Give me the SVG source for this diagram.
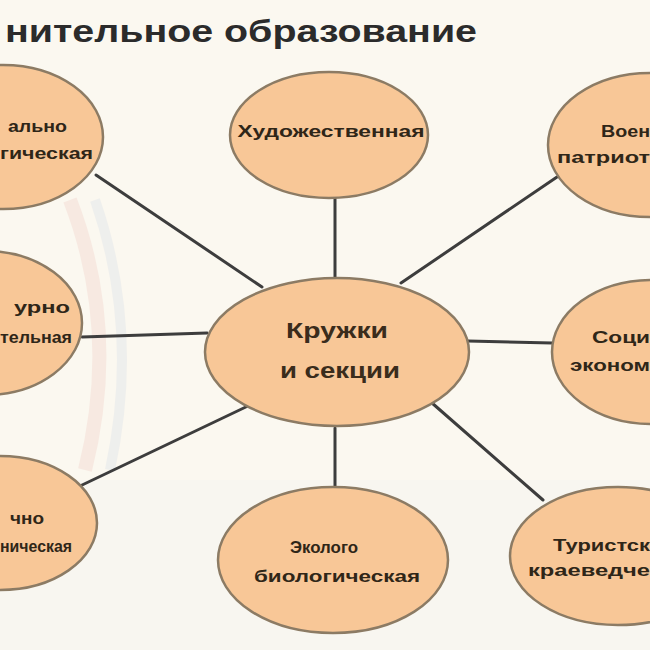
<svg xmlns="http://www.w3.org/2000/svg" width="650" height="650" viewBox="0 0 650 650">
<defs>
<style>
.node{fill:#f8c797;stroke:#8c7b64;stroke-width:2.5}
.lbl{font-family:"Liberation Sans",Arial,sans-serif;font-weight:bold;fill:#2f2618;font-size:16px}
.big{font-family:"Liberation Sans",Arial,sans-serif;font-weight:bold;fill:#3a2c1c;font-size:22px}
.conn line{stroke:#3d3d3d;stroke-width:3;stroke-linecap:round}
</style>
</defs>
<rect width="650" height="650" fill="#fbf8f0"/>
<g id="bg" fill="none" opacity="0.18">
<path d="M70 200 Q120 330 85 470" stroke="#e8a8a0" stroke-width="14"/>
<path d="M95 200 Q140 330 110 470" stroke="#b8c8e0" stroke-width="10"/>
<rect x="0" y="480" width="650" height="170" fill="#eef0f2" stroke="none"/>
</g>
<text id="title" x="5" y="42" font-family="'Liberation Sans',Arial,sans-serif" font-weight="bold" font-size="32" fill="#2b2b2b" textLength="472" lengthAdjust="spacingAndGlyphs">нительное образование</text>
<g class="conn" id="connectors">
<line x1="96" y1="175" x2="262" y2="287"/>
<line x1="335" y1="198" x2="335" y2="278"/>
<line x1="557" y1="177" x2="401" y2="283"/>
<line x1="82" y1="337" x2="207" y2="333"/>
<line x1="468" y1="341" x2="552" y2="343"/>
<line x1="80" y1="486" x2="250" y2="405"/>
<line x1="335" y1="428" x2="335" y2="488"/>
<line x1="432" y1="403" x2="543" y2="500"/>
</g>
<g id="n-center">
<ellipse class="node" cx="337" cy="352" rx="132" ry="74"/>
<text class="big" x="337" y="338" text-anchor="middle" textLength="102" lengthAdjust="spacingAndGlyphs">Кружки</text>
<text class="big" x="340" y="378" text-anchor="middle" textLength="120" lengthAdjust="spacingAndGlyphs">и секции</text>
</g>
<g id="n-art">
<ellipse class="node" cx="329" cy="135" rx="99" ry="63"/>
<text class="lbl" x="331" y="137" text-anchor="middle" textLength="187" lengthAdjust="spacingAndGlyphs">Художественная</text>
</g>
<g id="n-topleft">
<ellipse class="node" cx="3" cy="137" rx="100" ry="72"/>
<text class="lbl" x="8" y="132" textLength="59" lengthAdjust="spacingAndGlyphs">ально</text>
<text class="lbl" x="0" y="159" textLength="93" lengthAdjust="spacingAndGlyphs">гическая</text>
</g>
<g id="n-topright">
<ellipse class="node" cx="650" cy="145" rx="102" ry="72"/>
<text class="lbl" x="601" y="137" textLength="49" lengthAdjust="spacingAndGlyphs">Воен</text>
<text class="lbl" x="557" y="163" textLength="93" lengthAdjust="spacingAndGlyphs">патриот</text>
</g>
<g id="n-leftmid">
<ellipse class="node" cx="-15" cy="323" rx="97" ry="72"/>
<text class="lbl" x="14" y="313" textLength="56" lengthAdjust="spacingAndGlyphs">урно</text>
<text class="lbl" x="0" y="343" textLength="72" lengthAdjust="spacingAndGlyphs">тельная</text>
</g>
<g id="n-rightmid">
<ellipse class="node" cx="652" cy="352" rx="100" ry="72"/>
<text class="lbl" x="592" y="343" textLength="58" lengthAdjust="spacingAndGlyphs">Соци</text>
<text class="lbl" x="570" y="371" textLength="80" lengthAdjust="spacingAndGlyphs">эконом</text>
</g>
<g id="n-bottomleft">
<ellipse class="node" cx="0" cy="523" rx="97" ry="67"/>
<text class="lbl" x="10" y="524" textLength="34" lengthAdjust="spacingAndGlyphs">чно</text>
<text class="lbl" x="0" y="552" textLength="72" lengthAdjust="spacingAndGlyphs">ническая</text>
</g>
<g id="n-eco">
<ellipse class="node" cx="333" cy="560" rx="115" ry="73"/>
<text class="lbl" x="324" y="553" text-anchor="middle" textLength="68" lengthAdjust="spacingAndGlyphs">Эколого</text>
<text class="lbl" x="337" y="582" text-anchor="middle" textLength="166" lengthAdjust="spacingAndGlyphs">биологическая</text>
</g>
<g id="n-tour">
<ellipse class="node" cx="618" cy="556" rx="108" ry="69"/>
<text class="lbl" x="553" y="551" textLength="97" lengthAdjust="spacingAndGlyphs">Туристск</text>
<text class="lbl" x="528" y="576" textLength="122" lengthAdjust="spacingAndGlyphs">краеведче</text>
</g>
</svg>
